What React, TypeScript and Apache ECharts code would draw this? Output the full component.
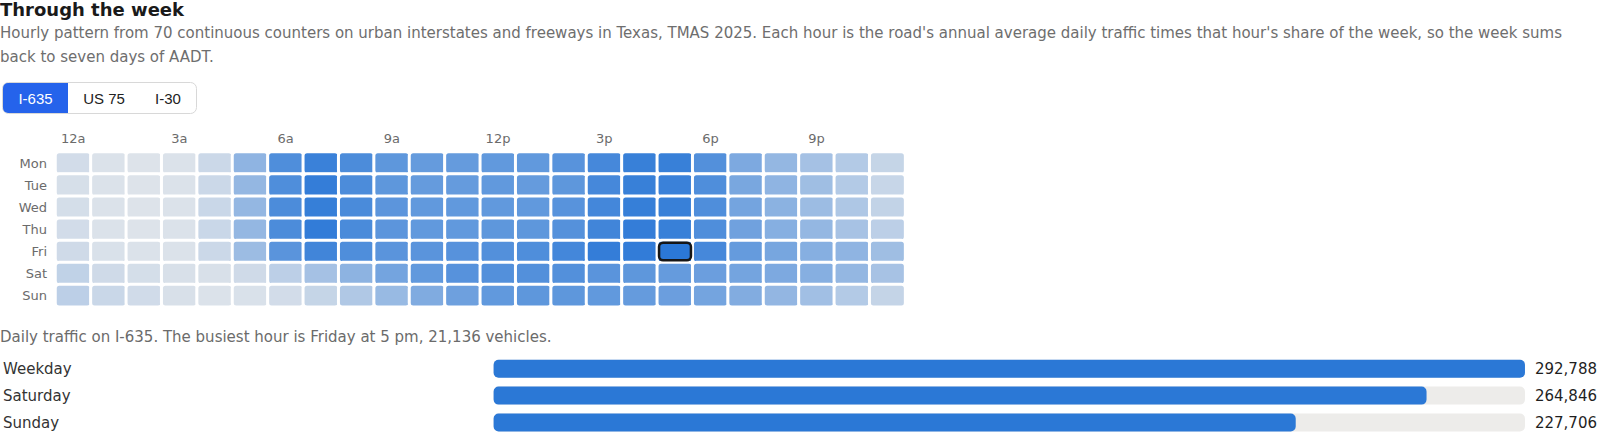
import { useEffect, useRef } from 'react'
import * as echarts from 'echarts'

// 小时与星期
const hours = [
  '12a', '1a', '2a', '3a', '4a', '5a', '6a', '7a', '8a', '9a', '10a', '11a',
  '12p', '1p', '2p', '3p', '4p', '5p', '6p', '7p', '8p', '9p', '10p', '11p'
]
const days = ['Mon', 'Tue', 'Wed', 'Thu', 'Fri', 'Sat', 'Sun']

// 每小时车辆数 (I-635)
const mon = [3810, 2870, 2680, 2870, 4560, 10780, 17370, 19630, 17750, 15860, 15110, 15110, 15490, 15490, 16430, 18310, 19820, 19820, 16990, 12660, 10210, 8520, 7010, 5130]
const tue = [3430, 2870, 2680, 2870, 4560, 10210, 17370, 20190, 17750, 15860, 15110, 15110, 15490, 15110, 15860, 18310, 19820, 19630, 17370, 13040, 10780, 9080, 7010, 4940]
const wed = [3620, 2870, 2680, 2870, 4750, 10210, 17750, 20010, 17930, 16050, 15490, 15490, 15490, 15490, 16430, 18500, 20010, 19820, 17370, 13600, 11150, 9460, 7570, 5500]
const thu = [3810, 2870, 2680, 2870, 4750, 10210, 17750, 20380, 17930, 16050, 15490, 15490, 15860, 15860, 16800, 18880, 20190, 19820, 17370, 13980, 11720, 10210, 8330, 6070]
const fri = [4180, 3050, 2870, 2870, 4560, 9460, 16240, 18880, 17370, 16240, 16240, 16620, 16990, 17370, 18500, 20190, 20380, 21136, 18310, 15110, 13230, 11720, 10780, 9080]
const sat = [5690, 4180, 3620, 3240, 3240, 4180, 6070, 8520, 10960, 13600, 15490, 16620, 16990, 16990, 16990, 16240, 15860, 15110, 14540, 13600, 12660, 11720, 10210, 8330]
const sun = [6070, 4750, 3990, 3240, 2870, 3050, 3810, 5130, 7390, 9830, 12280, 14170, 15490, 15860, 15860, 15490, 15110, 14540, 13600, 12090, 10400, 8890, 7010, 5310]
const week = [mon, tue, wed, thu, fri, sat, sun]

// 日总量
const dayTypes = ['Weekday', 'Saturday', 'Sunday']
const dayTotals = [292788, 264846, 227706]

const routes = ['I-635', 'US 75', 'I-30']

const FONT = '"DejaVu Sans", sans-serif'
const fmt = (v: number) => v.toLocaleString('en-US')

export default function App() {
  const chartRef = useRef<HTMLDivElement>(null)

  useEffect(() => {
    if (!chartRef.current) return
    const chart = echarts.init(chartRef.current, undefined, { renderer: 'svg' })

    const all = week.flat()
    const peak = Math.max(...all)
    const low = Math.min(...all)

    const heatData: number[][] = []
    let peakCell: number[] = [0, 0]
    week.forEach((row, d) => {
      row.forEach((v, h) => {
        heatData.push([h, d, v])
        if (v === peak) peakCell = [h, d]
      })
    })

    // 分段按钮
    const tabs: any[] = [
      {
        type: 'rect',
        shape: { x: 2.5, y: 82.5, width: 194, height: 31, r: 6 },
        style: { fill: '#fff', stroke: '#d8d8d8', lineWidth: 1 }
      },
      {
        type: 'rect',
        shape: { x: 3, y: 83, width: 65, height: 30, r: [5, 0, 0, 5] },
        style: { fill: '#2563eb' }
      }
    ]
    const tabX = [35.5, 104, 168]
    routes.forEach((r, i) => {
      tabs.push({
        type: 'text',
        x: tabX[i],
        y: 98.5,
        style: {
          text: r,
          font: '15px "Liberation Sans", Arial, sans-serif',
          fill: i === 0 ? '#fff' : '#222',
          align: 'center',
          verticalAlign: 'middle'
        }
      })
    })

    const option: echarts.EChartsOption = {
      animation: false,
      textStyle: { fontFamily: FONT },
      graphic: [
        {
          type: 'text',
          x: 0,
          y: 9.5,
          style: {
            text: 'Through the week',
            font: `bold 18px ${FONT}`,
            fill: '#1a1a1a',
            verticalAlign: 'middle'
          }
        },
        {
          type: 'text',
          x: 0,
          y: 33,
          style: {
            text: "Hourly pattern from 70 continuous counters on urban interstates and freeways in Texas, TMAS 2025. Each hour is the road's annual average daily traffic times that hour's share of the week, so the week sums",
            font: `15px ${FONT}`,
            fill: '#6e6e6e',
            verticalAlign: 'middle'
          }
        },
        {
          type: 'text',
          x: 0,
          y: 56.5,
          style: {
            text: 'back to seven days of AADT.',
            font: `15px ${FONT}`,
            fill: '#6e6e6e',
            verticalAlign: 'middle'
          }
        },
        ...tabs,
        {
          type: 'text',
          x: 0,
          y: 337,
          style: {
            text: `Daily traffic on I-635. The busiest hour is Friday at 5 pm, ${fmt(peak)} vehicles.`,
            font: `15px ${FONT}`,
            fill: '#6b6b6b',
            verticalAlign: 'middle'
          }
        }
      ],
      visualMap: {
        show: false,
        seriesIndex: 0,
        min: low,
        max: peak,
        inRange: { color: ['#dde3ea', '#2b78d7'] }
      },
      grid: [
        { left: 55.5, top: 152, width: 849.6, height: 154.7 },
        { left: 490.6, top: 355.2, width: 1034.4, height: 82.8 }
      ],
      xAxis: [
        {
          type: 'category',
          gridIndex: 0,
          position: 'top',
          data: hours,
          axisLine: { show: false },
          axisTick: { show: false },
          splitLine: { show: false },
          axisLabel: { interval: 2, color: '#6b6b6b', fontSize: 13, margin: 7 }
        },
        {
          type: 'value',
          gridIndex: 1,
          min: 0,
          max: dayTotals[0],
          show: false
        }
      ],
      yAxis: [
        {
          type: 'category',
          gridIndex: 0,
          inverse: true,
          data: days,
          axisLine: { show: false },
          axisTick: { show: false },
          splitLine: { show: false },
          axisLabel: { color: '#6b6b6b', fontSize: 13, margin: 8.5 }
        },
        {
          type: 'category',
          gridIndex: 1,
          inverse: true,
          data: dayTypes,
          axisLine: { show: false },
          axisTick: { show: false },
          axisLabel: { align: 'left', margin: 490.6, color: '#333', fontSize: 15 }
        },
        {
          type: 'category',
          gridIndex: 1,
          inverse: true,
          position: 'right',
          data: dayTotals.map(fmt),
          axisLine: { show: false },
          axisTick: { show: false },
          axisLabel: { align: 'left', margin: 10, color: '#1f1f1f', fontSize: 15 }
        }
      ],
      series: [
        {
          type: 'heatmap',
          xAxisIndex: 0,
          yAxisIndex: 0,
          data: heatData,
          itemStyle: { borderColor: '#fff', borderWidth: 3, borderRadius: 4 },
          emphasis: { disabled: true }
        },
        {
          // 最繁忙小时的描边
          type: 'custom',
          xAxisIndex: 0,
          yAxisIndex: 0,
          data: [peakCell],
          z: 5,
          silent: true,
          renderItem: (params: any, api: any) => {
            const c = api.coord([api.value(0), api.value(1)])
            const s = api.size([1, 1])
            const w = s[0] - 3.5
            const h = s[1] - 4.5
            return {
              type: 'rect',
              shape: { x: c[0] - w / 2, y: c[1] - h / 2, width: w, height: h, r: 4 },
              style: { fill: 'none', stroke: '#161616', lineWidth: 2.5 }
            }
          }
        },
        {
          type: 'bar',
          xAxisIndex: 1,
          yAxisIndex: 1,
          data: dayTotals,
          barWidth: 18,
          itemStyle: { color: '#2b78d6', borderRadius: 5 },
          showBackground: true,
          backgroundStyle: { color: '#edecea', borderRadius: 5 },
          emphasis: { disabled: true }
        }
      ]
    }

    chart.setOption(option)
    return () => chart.dispose()
  }, [])

  return (
    <div
      ref={chartRef}
      style={{ position: 'absolute', left: 0, top: 0, width: 1600, height: 436, background: '#fff' }}
    />
  )
}
